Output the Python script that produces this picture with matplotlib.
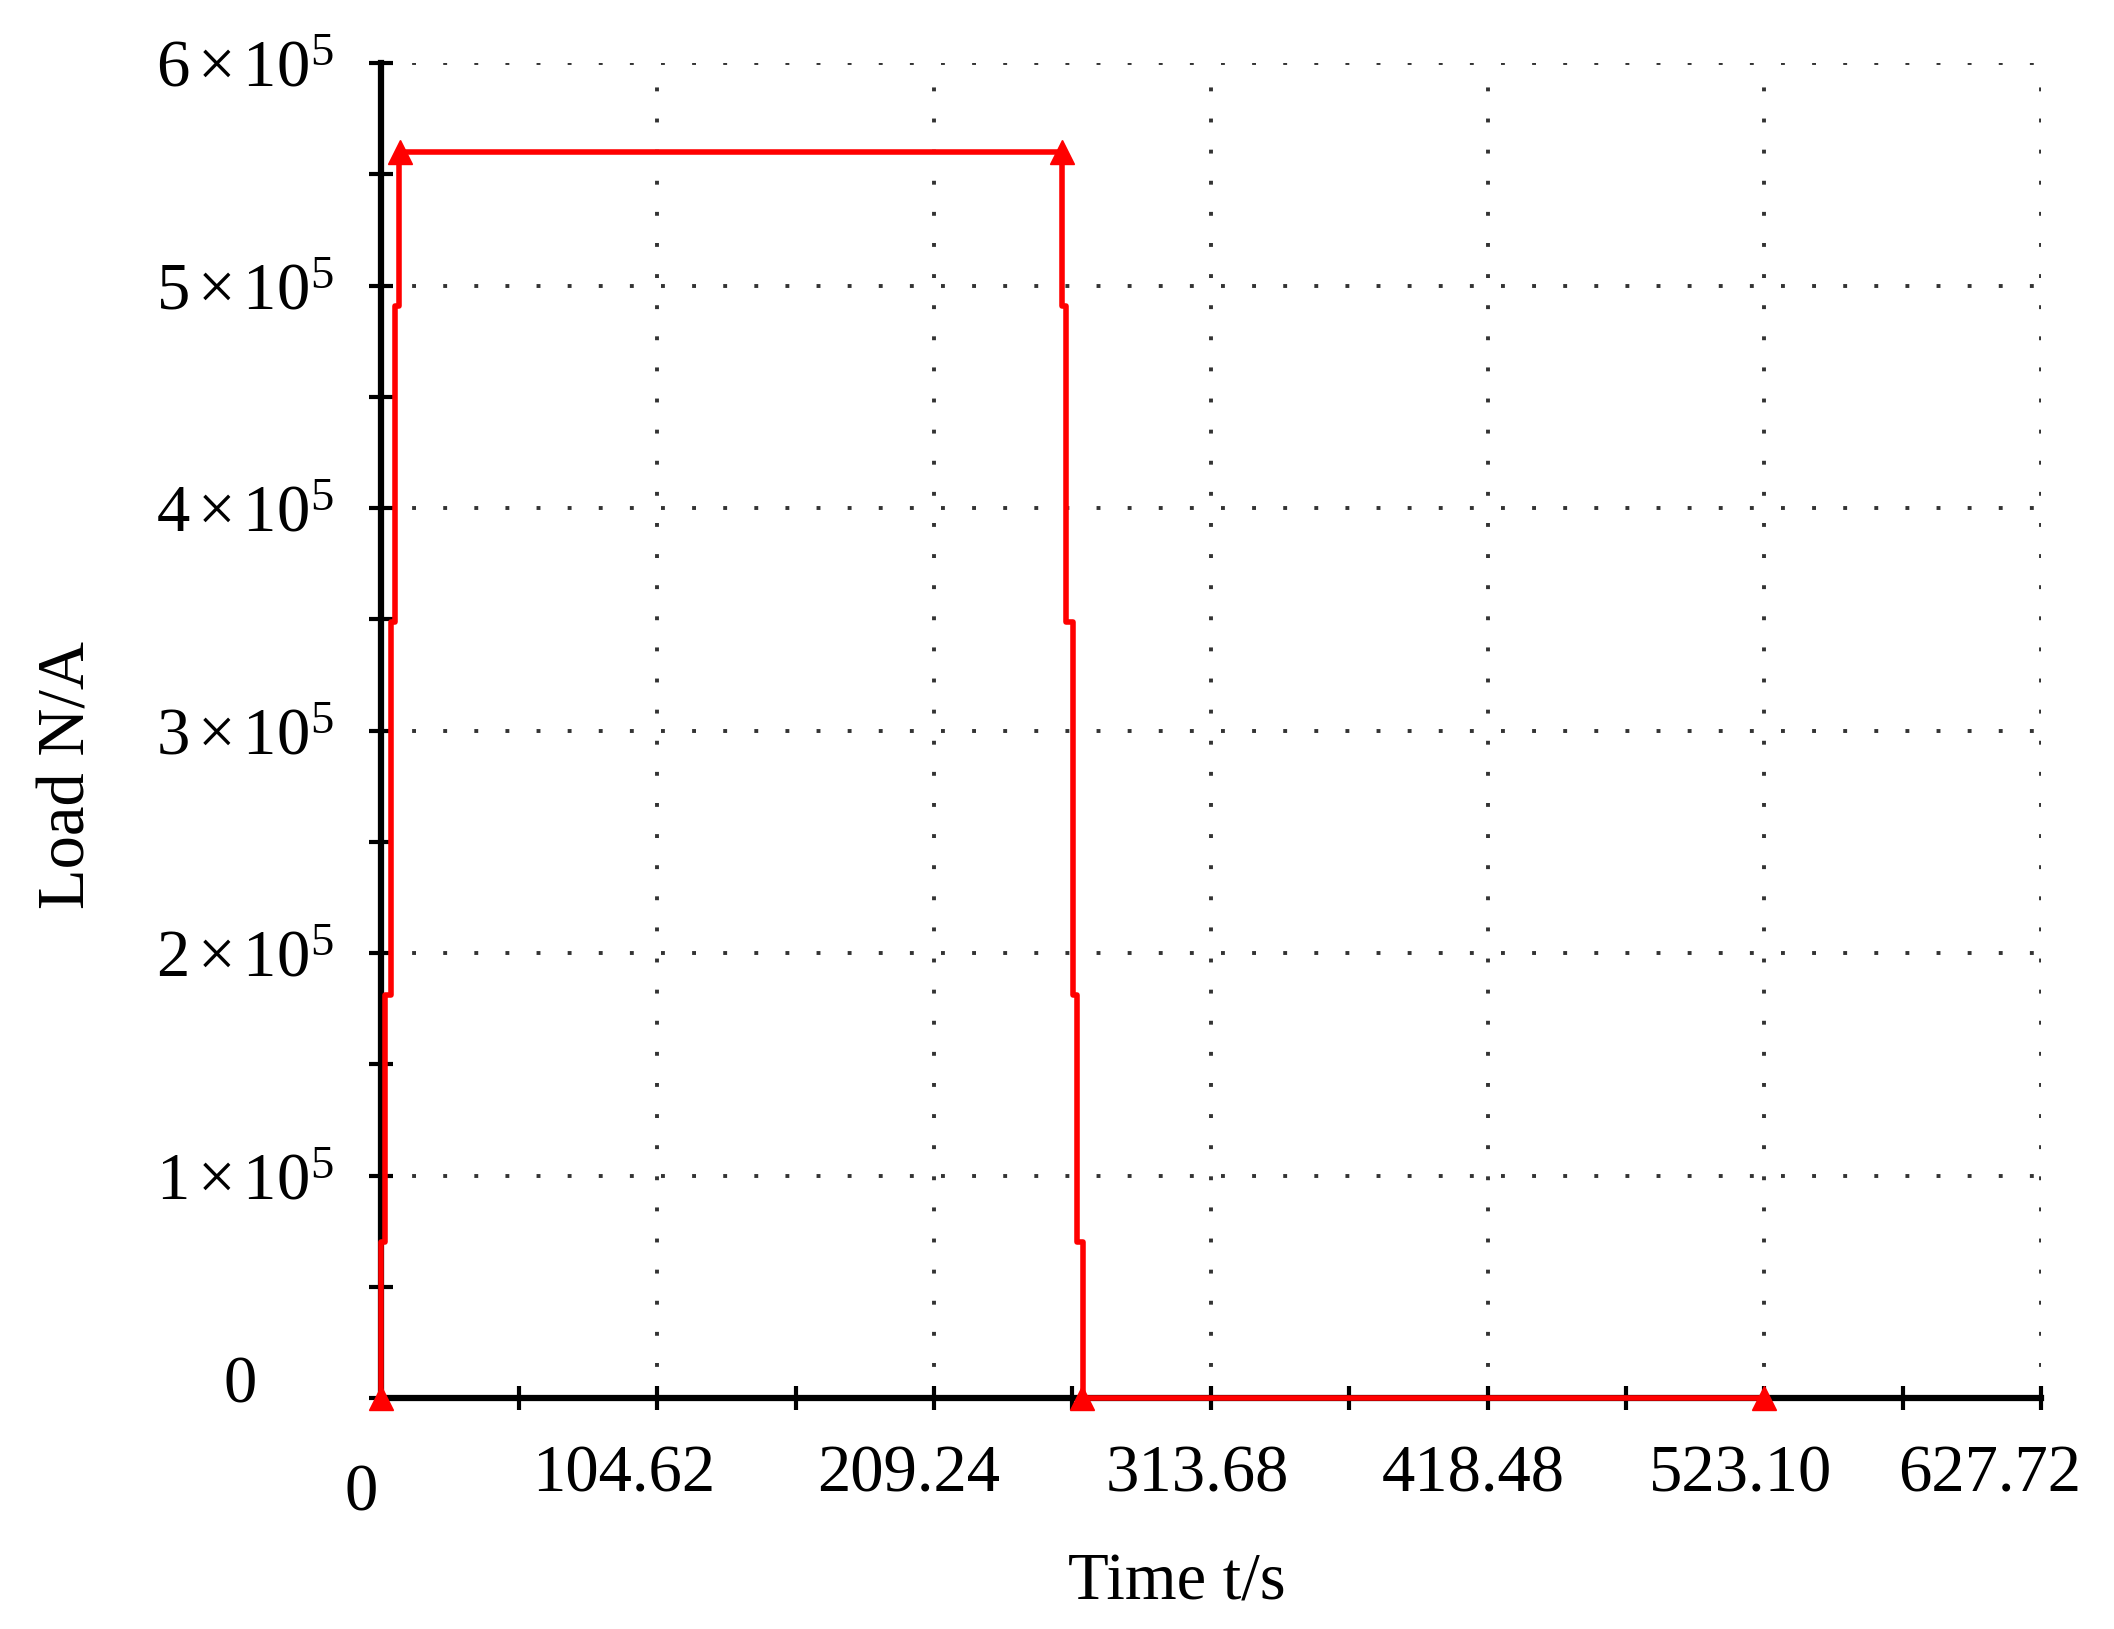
import numpy as np
import matplotlib.pyplot as plt

plt.rcParams['font.family'] = 'Liberation Serif'
plt.rcParams['mathtext.fontset'] = 'custom'
plt.rcParams['mathtext.rm'] = 'Liberation Serif'
plt.rcParams['mathtext.it'] = 'Liberation Serif:italic'

# load history, time in s and load in N/A
time = [0, 1.7, 3.9, 5.5, 6.8, 257.5, 259.0, 261.9, 263.4, 265.5, 523.1]
load = [0, 0.70e5, 1.81e5, 3.49e5, 4.91e5, 5.60e5, 4.91e5, 3.49e5, 1.81e5, 0.70e5, 0]

# triangle markers on the curve
mark_t = [0, 7.4, 257.5, 265.0, 523.1]
mark_y = [0, 5.6e5, 5.6e5, 0, 0]

x_ticks = [0, 104.62, 209.24, 313.86, 418.48, 523.10, 627.72]
x_labels = ['0', '104.62', '209.24', '313.68', '418.48', '523.10', '627.72']
x_minor = [52.31, 156.93, 261.55, 366.17, 470.79, 575.41]
y_ticks = [0, 1e5, 2e5, 3e5, 4e5, 5e5, 6e5]
y_labels = ['', '1$\\,$×$\\,$10$^5$', '2$\\,$×$\\,$10$^5$', '3$\\,$×$\\,$10$^5$',
            '4$\\,$×$\\,$10$^5$', '5$\\,$×$\\,$10$^5$', '6$\\,$×$\\,$10$^5$']
y_minor = [0.5e5, 1.5e5, 2.5e5, 3.5e5, 4.5e5, 5.5e5]

# pixel shifts of the x labels (they sit a bit left of their ticks)
x_label_dx = [-19, -34, -25, -13, -14, -24, -51]
x_label_dy = [-112, -93, -93, -93, -93, -93, -93]

fig = plt.figure(figsize=(21.14, 16.29), dpi=100)
ax = fig.add_axes([0.18, 0.1418, 0.7855, 0.8195])

ax.step(time, load, where='pre', color='#ff0000', lw=4.0, clip_on=False, zorder=4)
ax.plot(mark_t, mark_y, '^', color='#ff0000', ms=17, lw=0, clip_on=False, zorder=5)

ax.set_xlim(0, 627.72)
ax.set_ylim(0, 6e5)

ax.spines['top'].set_visible(False)
ax.spines['right'].set_visible(False)
for s in ['left', 'bottom']:
    ax.spines[s].set_linewidth(4.5)
    ax.spines[s].set_color('black')

ax.set_xticks(x_ticks)
ax.set_xticklabels([])
ax.set_xticks(x_minor, minor=True)
ax.set_yticks(y_ticks)
ax.set_yticklabels(y_labels)
ax.set_yticks(y_minor, minor=True)
ax.tick_params(which='both', direction='inout', length=17, width=3, color='black')
ax.tick_params(axis='y', which='major', labelsize=48, pad=25)

ax.set_axisbelow(True)
ax.grid(True, which='major', color='#333333', lw=2.8, linestyle=(0, (1, 7)))

# x tick labels
for t, lab, dx, dy in zip(x_ticks, x_labels, x_label_dx, x_label_dy):
    ax.annotate(lab, xy=(t, 0), xycoords=('data', 'axes fraction'),
                xytext=(dx, dy), textcoords='offset pixels',
                ha='center', va='baseline', fontsize=48, annotation_clip=False)

# the zero on the load axis
ax.annotate('0', xy=(0, 0), xycoords=('axes fraction', 'data'),
            xytext=(-140, -4), textcoords='offset pixels',
            ha='center', va='baseline', fontsize=48, annotation_clip=False)

ax.set_xlabel('Time t/s', fontsize=48)
ax.xaxis.set_label_coords(0.4797, -0.1161)
ax.set_ylabel('Load N/A', fontsize=48)
ax.yaxis.set_label_coords(-0.170, 0.4667)

fig.savefig('out.png', dpi=100, facecolor='white')
